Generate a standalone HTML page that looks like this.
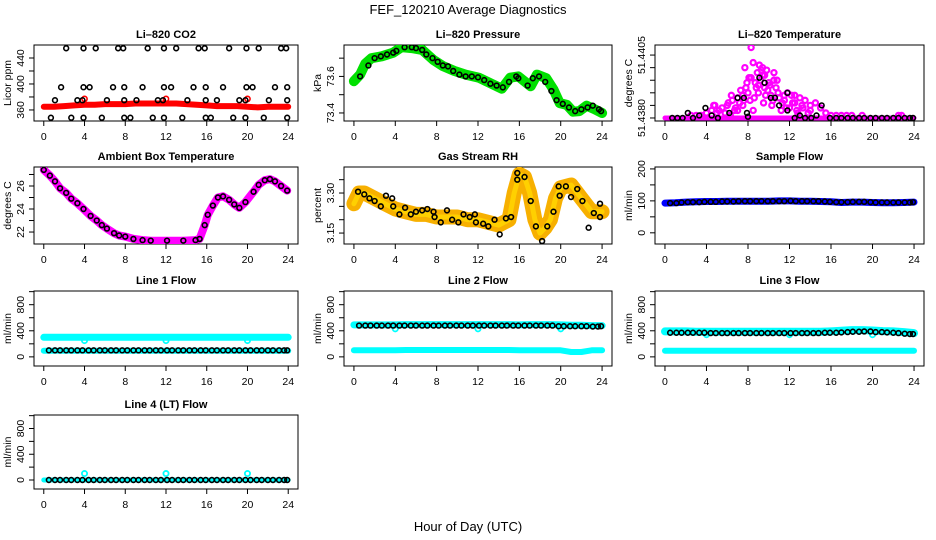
<!DOCTYPE html>
<html><head><meta charset="utf-8"><title>FEF_120210 Average Diagnostics</title>
<style>
html,body{margin:0;padding:0;background:#fff;}
svg{display:block;font-family:"Liberation Sans",Arial,sans-serif;}
</style></head>
<body>
<svg id="chart" width="936" height="540" viewBox="0 0 936 540" xmlns="http://www.w3.org/2000/svg">
<text x="468" y="14" font-size="13" text-anchor="middle">FEF_120210  Average Diagnostics</text>
<text x="468" y="531" font-size="13" text-anchor="middle">Hour of Day (UTC)</text>
</svg>
<script>
// ---------- data ----------
const H25 = [0,1,2,3,4,5,6,7,8,9,10,11,12,13,14,15,16,17,18,19,20,21,22,23,24];
const H44 = [0.5,1.1,1.6,2.2,2.7,3.3,3.8,4.4,4.9,5.5,6.0,6.6,7.1,7.7,8.2,8.8,9.3,9.9,10.4,11.0,11.5,12.1,12.6,13.2,13.7,14.3,14.8,15.4,15.9,16.5,17.0,17.6,18.1,18.7,19.2,19.8,20.3,20.9,21.4,22.0,22.5,23.1,23.6,23.9];
const xTicks = [0,4,8,12,16,20,24];

// CO2
const co2Band = [365,365,366,367,368,368,369,369,369,370,370,370,370,370,369,368,367,366,366,366,365,364,365,365,365];
const co2H1 = [0.7,2.7,3.9,5.7,7.9,8.5,10.7,11.8,13.6,15.9,16.4,18.6,19.8,21.6,23.9];
const co2V1 = [348,348,348,348,348,348,348,348,348,348,348,348,348,348,348];
const co2H2 = [1.1,3.3,3.8,6.2,7.9,9.1,11.2,11.7,14.1,15.9,17.0,19.2,19.8,22.1,23.9];
const co2V2 = [375,375,375,375,375,375,375,375,375,375,375,375,375,375,375];
const co2H3 = [1.7,3.9,4.5,6.8,7.9,9.7,11.8,12.5,14.7,15.9,17.6,19.9,20.5,22.7,23.9];
const co2V3 = [395,395,395,395,395,395,395,395,395,395,395,395,395,395,395];
const co2H4 = [2.2,3.9,5.1,7.3,7.8,10.2,11.8,13.0,15.2,15.8,18.2,19.9,21.1,23.3,23.8];
const co2V4 = [455,455,455,455,455,455,455,455,455,455,455,455,455,455,455];
const co2RedH = [4.0,12.0,20.0];
const co2RedV = [377,377,377];

// Pressure
const presH = [0,0.6,1.1,1.7,2.7,3.8,4.6,5.6,6.6,7.7,8.6,9.7,10.8,12.1,13.1,14.3,15.1,15.9,17.1,17.7,18.6,19.3,19.9,20.6,21.2,21.8,22.5,23.3,24];
const presV = [73.574,73.61,73.67,73.70,73.71,73.73,73.76,73.755,73.745,73.69,73.657,73.63,73.61,73.593,73.565,73.533,73.593,73.60,73.546,73.61,73.59,73.528,73.454,73.444,73.407,73.41,73.44,73.42,73.40];
const presPtH = [0.6,1.4,2.0,2.6,3.2,3.8,4.1,4.9,5.6,6.0,6.6,7.0,7.6,8.1,8.6,9.1,9.6,10.2,10.8,11.4,12.0,12.6,13.2,13.8,14.4,15.0,15.7,15.9,16.8,17.3,17.9,18.5,19.1,19.6,20.2,20.8,21.4,22.0,22.6,23.1,23.7,23.9];
const presPtV = [73.60,73.66,73.70,73.71,73.72,73.73,73.74,73.76,73.76,73.755,73.745,73.72,73.70,73.68,73.66,73.655,73.63,73.61,73.60,73.60,73.595,73.58,73.56,73.55,73.54,73.57,73.60,73.59,73.55,73.59,73.60,73.57,73.52,73.47,73.45,73.43,73.41,73.42,73.43,73.44,73.42,73.41];

// Li-820 temperature (units: 1e-4 above 51.4380)
const tempBandH = [0,24];
const tempBandV = [0,0];
const tempPinkH = [2.5,3,3.5,4,4.5,4.7,5,5.5,5.8,6,6.3,6.5,6.8,7,7,7.2,7.5,7.5,7.8,7.9,8,8.2,8.3,8.5,8.5,8.8,8.9,9,9.2,9.4,9.5,9.6,9.8,10,10.2,10.3,10.5,10.7,11,11.2,11.5,11.8,12,12.2,12.5,12.8,13,13.2,13.5,14,14,14.5,15,15.5,16,16.5,17,17.5,18,19,22.5,22.8,9.1,9.3,9.6,10.5,10.8,11.5,12.5,6.4,4.8,8.3,7.7,10.1,7.3,7.6,8.1,8.6,9.0,9.4,9.9,10.4,10.9,11.3,11.7,12.3,12.7,13.3,13.8,6.7,6.1,5.2,8.7,9.7];
const tempPinkV = [1,1,1,2,3,5,2,4,2,5,1,7,4,8,3,6,9,5,12,14,10,7,16,22,3,12,18,10,15,20,6,12,19,14,9,5,18,12,8,3,7,10,4,9,6,2,8,5,7,3,5,6,4,2,1,1,1,1,1,1,1,1,21,19,17,15,15,9,9,9,5,28,20,13,11,7,16,8,13,17,11,7,10,6,4,6,3,4,2,3,6,3,14,9];
const tempBlkH = [0.7,1.2,1.7,2.2,2.7,3.3,3.9,4.5,5.1,6.2,7.0,7.6,7.9,8.0,9.1,9.6,10.2,10.6,11.0,11.8,11.8,12.5,13.0,13.5,14.1,14.6,15.1,15.9,16.5,17.0,17.6,18.1,18.7,19.2,19.8,20.3,20.9,21.4,22.0,22.5,23.1,23.6,23.9];
const tempBlkV = [0,0,0,2,0,1,4,1,0,2,8,8,2,0.5,16,14,8,8,5,10,3,0,1,0,0,1,5,0,0,0,0,0,0,0,0,0,0,0,0,0,0,0,0];

// Ambient box temperature
const ambH = [0,0.6,1.1,1.6,2.2,2.7,3.3,3.9,4.6,5.2,5.7,6.2,6.9,7.4,8.0,8.8,9.7,10.5,12.1,13.7,14.9,15.3,15.8,16.1,16.6,17.1,17.6,18.2,18.7,19.2,19.8,20.6,21.1,21.7,22.2,22.7,23.3,23.9];
const ambV = [27.4,26.9,26.4,25.8,25.4,24.9,24.5,24.0,23.4,23.0,22.6,22.3,21.9,21.7,21.6,21.4,21.3,21.25,21.25,21.25,21.3,21.4,22.6,23.5,24.3,25.0,25.1,24.8,24.4,24.1,24.6,25.5,26.1,26.5,26.6,26.4,26.0,25.6];

// Gas stream RH
const rhBandH = [0,0.5,1,2,3,4,5,6,7,8,9,10,11,12,13,14,15,15.5,16,16.5,17,17.5,18,18.5,19,19.5,20,21,22,23,24];
const rhBandV = [3.26,3.30,3.30,3.28,3.26,3.24,3.23,3.22,3.22,3.21,3.21,3.21,3.20,3.20,3.19,3.18,3.20,3.30,3.37,3.36,3.30,3.20,3.15,3.17,3.20,3.28,3.32,3.33,3.28,3.23,3.23];
const rhPtH = [0.4,1.0,1.5,2.0,2.6,3.1,3.7,3.8,4.4,4.95,5.5,6.0,6.6,7.1,7.7,7.8,8.4,9.0,9.5,10.1,10.6,11.2,11.7,11.8,12.5,13.0,13.6,14.1,14.7,15.2,15.8,15.8,16.5,17.1,17.6,18.2,18.7,19.3,19.8,19.9,20.5,21.0,21.6,22.1,22.7,23.2,23.8,23.8];
const rhPtV = [3.305,3.295,3.28,3.27,3.25,3.29,3.28,3.25,3.22,3.245,3.22,3.23,3.235,3.24,3.23,3.21,3.19,3.235,3.20,3.19,3.22,3.21,3.22,3.19,3.185,3.175,3.20,3.145,3.205,3.21,3.375,3.35,3.36,3.27,3.175,3.12,3.175,3.23,3.325,3.29,3.325,3.285,3.315,3.27,3.17,3.225,3.26,3.21];

// Sample flow
const sfBand = [93,94,96,97,98,98,99,99,99,99,99,100,100,99,99,98,97,95,96,96,95,94,94,95,96];
const sfPts = [93,93,95,96,96,96,97,97,97,98,98,98,99,99,99,99,99,99,99,99,99,100,99,99,99,99,99,98,97,96,96,96,97,97,97,96,95,95,95,95,95,95,95,96];

// Line flows
const dipH = [4,12,20];
const l1Top = [300,300,300,300,300,300,300,300,300,300,300,300,300,300,300,300,300,300,300,300,300,300,300,300,300];
const l1Low = [95,95,95,95,95,95,95,95,95,95,95,95,95,95,95,95,95,95,95,95,95,95,95,95,95];
const l1Dip = [250,250,250];
const l1Pts = [100,100,100,100,100,100,100,100,100,100,100,100,100,100,100,100,100,100,100,100,100,100,100,100,100,100,100,100,100,100,100,100,100,100,100,100,100,100,100,100,100,100,100,100];
const l2Top = [490,490,490,490,490,495,495,495,495,495,495,495,495,495,495,495,490,495,495,495,490,485,485,480,480];
const l2Low = [100,100,100,100,100,105,105,105,105,105,105,105,105,105,105,105,100,100,100,100,100,75,75,100,100];
const l2Dip = [430,430,430];
const l2Pts = [480,480,480,480,480,480,480,480,480,480,480,480,480,480,480,480,480,480,480,480,480,480,480,480,480,480,480,480,480,480,480,480,480,480,480,470,470,470,470,470,470,465,465,470];
const l3Top = [390,390,390,385,385,385,385,385,385,385,385,385,385,385,385,385,390,400,410,410,405,395,390,380,365];
const l3Low = [95,95,95,95,95,95,95,95,95,95,95,95,95,95,95,95,95,95,95,95,95,95,95,95,95];
const l3Dip = [340,340,340];
const l3Pts = [370,370,370,370,370,370,370,365,365,365,365,365,365,365,365,365,365,365,365,365,365,365,365,365,365,365,365,370,370,370,375,380,385,385,390,390,380,380,375,370,365,355,350,350];
const l4Top = [0,0,0,0,0,0,0,0,0,0,0,0,0,0,0,0,0,0,0,0,0,0,0,0,0];
const l4Dip = [100,100,100];
const l4Pts = [0,0,0,0,0,0,0,0,0,0,0,0,0,0,0,0,0,0,0,0,0,0,0,0,0,0,0,0,0,0,0,0,0,0,0,0,0,0,0,0,0,0,0,0];

// ---------- drawing ----------
const NS = "http://www.w3.org/2000/svg";
const svg = document.getElementById('chart');
function mk(tag, attrs, parent) {
  const e = document.createElementNS(NS, tag);
  for (const k in attrs) e.setAttribute(k, attrs[k]);
  parent.appendChild(e);
  return e;
}
const cols = [[34,298],[344,612],[655,924]];
const rows = [[45,121],[167,244],[291,366],[415,489]];

function panel(name, title, ci, ri, ydom, yticks, ylabs, ytitle) {
  const g = mk('g', {}, svg);
  
  
  const [L, R] = cols[ci], [T, B] = rows[ri];
  const pad = 0.96;
  const sx = h => L + (h + pad) / (24 + 2 * pad) * (R - L);
  const sy = v => B - (v - ydom[0]) / (ydom[1] - ydom[0]) * (B - T);
  const box = mk('rect', {x: L, y: T, width: R - L, height: B - T, fill: 'none', stroke: '#000', 'stroke-width': 1}, g);
  
  
  const t = mk('text', {x: (L + R) / 2, y: T - 7, 'font-size': 11, 'font-weight': 'bold', 'text-anchor': 'middle'}, g);
  t.textContent = title;
  
  
  const xa = mk('g', {}, g);
  
  
  mk('line', {x1: sx(0), x2: sx(24), y1: B, y2: B, stroke: '#000'}, xa);
  xTicks.forEach(h => {
    mk('line', {x1: sx(h), x2: sx(h), y1: B, y2: B + 5, stroke: '#000'}, xa);
    const tl = mk('text', {x: sx(h), y: B + 19, 'font-size': 10.5, 'text-anchor': 'middle'}, xa);
    tl.textContent = h;
    
    
  });
  const ya = mk('g', {}, g);
  
  
  yticks.forEach(v => {
    mk('line', {x1: L - 5, x2: L, y1: sy(v), y2: sy(v), stroke: '#000'}, ya);
  });
  ylabs.forEach(p => {
    const yl = mk('text', {x: 0, y: 0, 'font-size': 10.5, 'text-anchor': 'middle', transform: 'translate(' + (L - 10) + ',' + sy(p[0]) + ') rotate(-90)'}, ya);
    yl.textContent = p[1];
    
    
  });
  const yt = mk('text', {x: 0, y: 0, 'font-size': 10.5, 'text-anchor': 'middle', transform: 'translate(' + (L - 23) + ',' + ((T + B) / 2) + ') rotate(-90)'}, ya);
  yt.textContent = ytitle;
  
  
  const clipId = 'c' + name;
  const cp = mk('clipPath', {id: clipId}, g);
  mk('rect', {x: L, y: T, width: R - L, height: B - T}, cp);
  const plot = mk('g', {'clip-path': 'url(#' + clipId + ')'}, g);
  
  
  return {g: plot, sx, sy, name};
}
function band(P, hs, vs, color, w, nm) {
  const n = Math.min(hs.length, vs.length);
  let d = '';
  for (let i = 0; i < n; i++) d += (i ? 'L' : 'M') + P.sx(hs[i]).toFixed(1) + ' ' + P.sy(vs[i]).toFixed(1);
  const p = mk('path', {d: d, fill: 'none', stroke: color, 'stroke-width': w, 'stroke-linejoin': 'round', 'stroke-linecap': 'round'}, P.g);
  
  
}
function pts(P, hs, vs, color, r, sw, nm) {
  const n = Math.min(hs.length, vs.length);
  const g = mk('g', {}, P.g);
  
  
  for (let i = 0; i < n; i++) {
    const c = mk('circle', {cx: P.sx(hs[i]), cy: P.sy(vs[i]), r: r, fill: 'none', stroke: color, 'stroke-width': sw}, g);
    
    
  }
}

let P = panel('co2', 'Li\u2013820 CO2', 0, 0, [343, 460], [360,380,400,420,440], [[360,'360'],[400,'400'],[440,'440']], 'Licor ppm');
band(P, H25, co2Band, '#ff0000', 6, 'co2-red-series');
pts(P, co2RedH, co2RedV, '#ff0000', 2.6, 1.6, 'co2-red-points');
pts(P, co2H1, co2V1, '#000', 2.4, 1.6, 'co2-black-points-1');
pts(P, co2H2, co2V2, '#000', 2.4, 1.6, 'co2-black-points-2');
pts(P, co2H3, co2V3, '#000', 2.4, 1.6, 'co2-black-points-3');
pts(P, co2H4, co2V4, '#000', 2.4, 1.6, 'co2-black-points-4');

P = panel('pressure', 'Li\u2013820 Pressure', 1, 0, [73.356, 73.772], [73.4,73.5,73.6,73.7], [[73.4,'73.4'],[73.6,'73.6']], 'kPa');
band(P, presH, presV, '#00e000', 10, 'pressure-green-series');
pts(P, presPtH, presPtV, '#000', 2.4, 1.6, 'pressure-black-points');

P = panel('li820-temp', 'Li\u2013820 Temperature', 2, 0, [-1.2, 29], [0,5,10,15,20,25], [[0,'51.4380'],[25,'51.4405']], 'degrees C');
band(P, tempBandH, tempBandV, '#ff00ff', 5, 'temp-baseline-series');
pts(P, tempPinkH, tempPinkV, '#ff00ff', 2.6, 2.2, 'temp-magenta-points');
pts(P, tempBlkH, tempBlkV, '#000', 2.4, 1.6, 'temp-black-points');

P = panel('ambient', 'Ambient Box Temperature', 0, 1, [20.96, 27.65], [22,23,24,25,26,27], [[22,'22'],[24,'24'],[26,'26']], 'degrees C');
band(P, ambH, ambV, '#ff00ff', 8, 'ambient-magenta-series');
pts(P, ambH, ambV, '#000', 2.4, 1.6, 'ambient-black-points');

P = panel('rh', 'Gas Stream RH', 1, 1, [3.109, 3.3975], [3.15,3.20,3.25,3.30,3.35], [[3.15,'3.15'],[3.30,'3.30']], 'percent');
band(P, rhBandH, rhBandV, '#f7b000', 15, 'rh-orange-series');
band(P, rhBandH, rhBandV, '#ffd000', 5, 'rh-yellow-core');
pts(P, rhPtH, rhPtV, '#000', 2.4, 1.6, 'rh-black-points');

P = panel('sample-flow', 'Sample Flow', 2, 1, [-35, 206], [0,50,100,150,200], [[0,'0'],[100,'100'],[200,'200']], 'ml/min');
band(P, H25, sfBand, '#0000ff', 7, 'sample-flow-blue-series');
pts(P, H44, sfPts, '#000', 2.4, 1.6, 'sample-flow-black-points');

const fTicks = [0,200,400,600,800,1000];
const fLabs = [[0,'0'],[400,'400'],[800,'800']];
P = panel('line1', 'Line 1 Flow', 0, 2, [-140, 1010], fTicks, fLabs, 'ml/min');
band(P, H25, l1Top, '#00ffff', 7, 'line1-cyan-upper');
band(P, H25, l1Low, '#00ffff', 6, 'line1-cyan-lower');
pts(P, dipH, l1Dip, '#00ffff', 2.6, 1.8, 'line1-cyan-dips');
pts(P, H44, l1Pts, '#000', 2.4, 1.6, 'line1-black-points');
P = panel('line2', 'Line 2 Flow', 1, 2, [-140, 1010], fTicks, fLabs, 'ml/min');
band(P, H25, l2Top, '#00ffff', 7, 'line2-cyan-upper');
band(P, H25, l2Low, '#00ffff', 6, 'line2-cyan-lower');
pts(P, dipH, l2Dip, '#00ffff', 2.6, 1.8, 'line2-cyan-dips');
pts(P, H44, l2Pts, '#000', 2.4, 1.6, 'line2-black-points');
P = panel('line3', 'Line 3 Flow', 2, 2, [-140, 1010], fTicks, fLabs, 'ml/min');
band(P, H25, l3Top, '#00ffff', 8, 'line3-cyan-upper');
band(P, H25, l3Low, '#00ffff', 6, 'line3-cyan-lower');
pts(P, dipH, l3Dip, '#00ffff', 2.6, 1.8, 'line3-cyan-dips');
pts(P, H44, l3Pts, '#000', 2.4, 1.6, 'line3-black-points');
P = panel('line4', 'Line 4 (LT) Flow', 0, 3, [-140, 1010], fTicks, fLabs, 'ml/min');
band(P, H25, l4Top, '#00ffff', 5, 'line4-cyan-series');
pts(P, dipH, l4Dip, '#00ffff', 2.6, 1.8, 'line4-cyan-spikes');
pts(P, H44, l4Pts, '#000', 2.4, 1.6, 'line4-black-points');
</script>
</body></html>
